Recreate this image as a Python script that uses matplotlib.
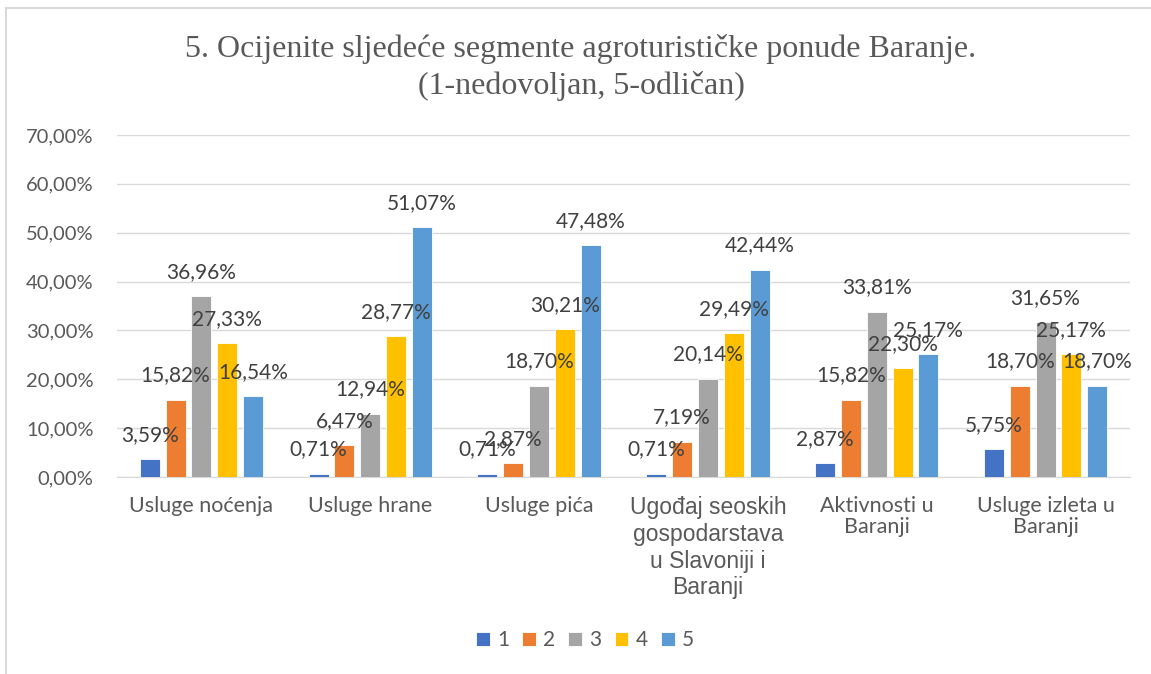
import matplotlib
matplotlib.use("Agg")
import matplotlib.pyplot as plt
import numpy as np

categories = ["Usluge noćenja", "Usluge hrane", "Usluge pića",
              "Ugođaj seoskih\ngospodarstava\nu Slavoniji i\nBaranji",
              "Aktivnosti u\nBaranji", "Usluge izleta u\nBaranji"]
series_names = ["1", "2", "3", "4", "5"]
s1 = [3.59, 0.71, 0.71, 0.71, 2.87, 5.75]
s2 = [15.82, 6.47, 2.87, 7.19, 15.82, 18.70]
s3 = [36.96, 12.94, 18.70, 20.14, 33.81, 31.65]
s4 = [27.33, 28.77, 30.21, 29.49, 22.30, 25.17]
s5 = [16.54, 51.07, 47.48, 42.44, 25.17, 18.70]
series = [s1, s2, s3, s4, s5]
colors = ["#4472C4", "#ED7D31", "#A5A5A5", "#FFC000", "#5B9BD5"]
yticks = [0, 10, 20, 30, 40, 50, 60, 70]

W, H = 1151, 674
fig = plt.figure(figsize=(W/100, H/100), dpi=100)
ax = fig.add_axes([117/W, 1-477/H, (1130-117)/W, (477-135)/H])

x = np.arange(len(categories))
bw = 20/168.8
step = 25.8/168.8
for i, (vals, c, n) in enumerate(zip(series, colors, series_names)):
    pos = x + (i-2)*step
    bars = ax.bar(pos, vals, width=bw, color=c, label=n, edgecolor="white", linewidth=0.6, zorder=3)
    for b, v in zip(bars, vals):
        ax.annotate(f"{v:.2f}%".replace(".", ","), (b.get_x()+b.get_width()/2, v),
                    xytext=(0, 17.5), textcoords="offset points", ha="center", va="center",
                    fontsize=15, color="#404040", family="Lato", zorder=5)

ax.set_xlim(-0.5, len(categories)-0.5)
ax.set_ylim(0, 70)
ax.set_yticks(yticks)
ax.set_yticklabels([f"{t:.2f}%".replace(".", ",") for t in yticks], family="Lato", fontsize=14.5, color="#595959")
ax.set_xticks(x)
ax.set_xticklabels(categories, fontsize=15.5, color="#595959")
for i, lab in enumerate(ax.get_xticklabels()):
    if i == 3:
        lab.set_family("Liberation Sans")
        lab.set_fontsize(16.5)
        lab.set_linespacing(1.2)
    else:
        lab.set_family("Lato")
        lab.set_linespacing(1.05)
ax.tick_params(axis="both", length=0)
ax.tick_params(axis="x", pad=14)
ax.tick_params(axis="y", pad=17)
for s in ["top", "right", "left"]:
    ax.spines[s].set_visible(False)
ax.spines["bottom"].set_color("#D9D9D9")
ax.grid(axis="y", color="#D9D9D9", linewidth=1, zorder=0)
ax.set_axisbelow(True)

fig.text(581/W, 1-49/H, "5. Ocijenite sljedeće segmente agroturističke ponude Baranje.",
         ha="center", va="center", family="Liberation Serif", fontsize=23, color="#595959")
fig.text(581/W, 1-86/H, "(1-nedovoljan, 5-odličan)",
         ha="center", va="center", family="Liberation Serif", fontsize=23, color="#595959")

leg = fig.legend(loc="center", bbox_to_anchor=(585/W, 1-640/H), ncol=5, frameon=False,
                 prop={"family": "Lato", "size": 15}, handlelength=0.67, handleheight=0.67,
                 handletextpad=0.34, columnspacing=0.62, labelcolor="#595959")

fig.add_artist(plt.Line2D([5.5/W, 1], [1-7.5/H, 1-7.5/H], color="#D9D9D9", linewidth=1.5, transform=fig.transFigure))
fig.add_artist(plt.Line2D([5.5/W, 5.5/W], [0, 1-7.5/H], color="#D9D9D9", linewidth=1.5, transform=fig.transFigure))

fig.savefig("out.png", dpi=100, facecolor="white")
